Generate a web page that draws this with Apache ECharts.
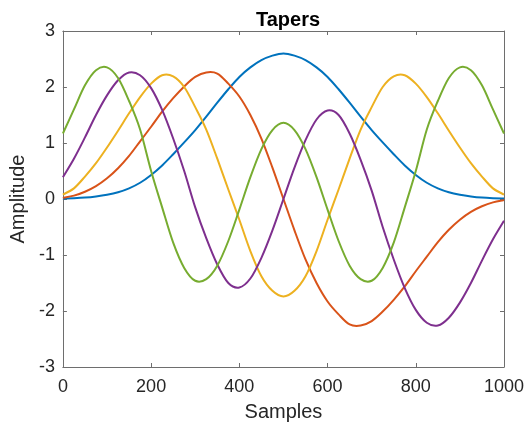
<!DOCTYPE html>
<html lang='en'>
  <head>
    <meta charset='utf-8'>
    <title>Tapers</title>
    <style>
      html, body { margin: 0; padding: 0; background: #fff; }
      #main { width: 532px; height: 427px; }
    </style>
  </head>
  <body>
    <div id="main"></div>
    <script src="https://cdn.jsdelivr.net/npm/echarts@6/dist/echarts.min.js"></script>
    <script>
      // sample positions (every 25 samples) and values
      var samples = [0, 25, 50, 75, 100, 125, 150, 175, 200, 225, 250, 275, 300, 325, 350, 375, 400, 425, 450, 475,
        500, 525, 550, 575, 600, 625, 650, 675, 700, 725, 750, 775, 800, 825, 850, 875, 900, 925, 950, 975, 1000];

      var taper1 = [0.01, 0.015, 0.025, 0.045, 0.075, 0.12, 0.19, 0.29, 0.43, 0.6, 0.8, 1.01, 1.23, 1.47, 1.72, 1.96, 2.18, 2.35, 2.48, 2.56,
        2.6, 2.56, 2.48, 2.35, 2.18, 1.96, 1.72, 1.47, 1.23, 1.01, 0.8, 0.6, 0.43, 0.29, 0.19, 0.12, 0.075, 0.045, 0.025, 0.015, 0.01];
      var taper2 = [0.02, 0.06, 0.13, 0.23, 0.37, 0.55, 0.77, 1.03, 1.29, 1.56, 1.8, 2.01, 2.18, 2.26, 2.24, 2.06, 1.83, 1.5, 1.08, 0.56,
        0, -0.56, -1.08, -1.5, -1.83, -2.06, -2.24, -2.26, -2.18, -2.01, -1.8, -1.56, -1.29, -1.03, -0.77, -0.55, -0.37, -0.23, -0.13, -0.06, -0.02];
      var taper3 = [0.08, 0.19, 0.4, 0.64, 0.92, 1.22, 1.53, 1.82, 2.06, 2.21, 2.19, 2.0, 1.64, 1.24, 0.72, 0.17, -0.37, -0.93, -1.38, -1.64,
        -1.74, -1.64, -1.38, -0.93, -0.37, 0.17, 0.72, 1.24, 1.64, 2.0, 2.19, 2.21, 2.06, 1.82, 1.53, 1.22, 0.92, 0.64, 0.4, 0.19, 0.08];
      var taper4 = [0.39, 0.72, 1.1, 1.5, 1.85, 2.12, 2.26, 2.21, 1.98, 1.59, 1.08, 0.5, -0.15, -0.7, -1.17, -1.5, -1.58, -1.42, -1.05, -0.56,
        0, 0.56, 1.05, 1.42, 1.58, 1.5, 1.17, 0.7, 0.15, -0.5, -1.08, -1.59, -1.98, -2.21, -2.26, -2.12, -1.85, -1.5, -1.1, -0.72, -0.39];
      var taper5 = [1.17, 1.6, 2.03, 2.3, 2.35, 2.16, 1.75, 1.24, 0.5, -0.15, -0.78, -1.23, -1.46, -1.43, -1.19, -0.75, -0.19, 0.39, 0.89, 1.23,
        1.36, 1.23, 0.89, 0.39, -0.19, -0.75, -1.19, -1.43, -1.46, -1.23, -0.78, -0.15, 0.5, 1.24, 1.75, 2.16, 2.35, 2.3, 2.03, 1.6, 1.17];

      var tapers = [taper1, taper2, taper3, taper4, taper5];
      var colors = ['#0072BD', '#D95319', '#EDB120', '#7E2F8E', '#77AC30'];

      var txt = '#262626';
      var axisCol = '#6e6e6e';
      var font = 'Liberation Sans, Arial, sans-serif';

      // curve through the read points (Catmull-Rom as cubic beziers), positions from the axes
      function makeRender(vals, color) {
        return function(params, api) {
          var p = [];
          for (var i = 0; i < samples.length; i++) p.push(api.coord([samples[i], vals[i]]));
          var n = p.length;
          var d = 'M' + p[0][0] + ' ' + p[0][1];
          for (var j = 0; j < n - 1; j++) {
            var p0 = p[j > 0 ? j - 1 : j], p1 = p[j], p2 = p[j + 1], p3 = p[j + 2 < n ? j + 2 : j + 1];
            var c1x = p1[0] + (p2[0] - p0[0]) / 6, c1y = p1[1] + (p2[1] - p0[1]) / 6;
            var c2x = p2[0] - (p3[0] - p1[0]) / 6, c2y = p2[1] - (p3[1] - p1[1]) / 6;
            d += ' C' + c1x + ' ' + c1y + ' ' + c2x + ' ' + c2y + ' ' + p2[0] + ' ' + p2[1];
          }
          return {
            type: 'path',
            shape: { pathData: d },
            style: { stroke: color, lineWidth: 2, fill: null }
          };
        };
      }

      var series = tapers.map(function(t, i) {
        return {
          type: 'custom',
          coordinateSystem: 'cartesian2d',
          data: [[samples[0], t[0]]],
          encode: { x: 0, y: 1 },
          renderItem: makeRender(t, colors[i]),
          silent: true,
          clip: true,
          z: 2 + i
        };
      });

      function frameAxis(pos, isX) {
        var a = {
          type: 'value', position: pos,
          axisLine: { show: true, onZero: false, lineStyle: { color: axisCol, width: 1 } },
          axisTick: { show: true, inside: true, length: 4, lineStyle: { color: axisCol } },
          axisLabel: { show: false },
          splitLine: { show: false }
        };
        if (isX) { a.min = 0; a.max = 1000; a.interval = 200; }
        else { a.min = -3; a.max = 3; a.interval = 1; }
        return a;
      }

      var xBottom = frameAxis('bottom', true);
      xBottom.name = 'Samples';
      xBottom.nameLocation = 'middle';
      xBottom.nameGap = 35;
      xBottom.nameTextStyle = { fontFamily: font, fontSize: 20, color: txt };
      xBottom.axisLabel = { show: true, fontFamily: font, fontSize: 18, color: txt, margin: 11,
        formatter: function(v) { return String(v); } };

      var yLeft = frameAxis('left', false);
      yLeft.name = 'Amplitude';
      yLeft.nameLocation = 'middle';
      yLeft.nameGap = 23;
      yLeft.nameRotate = 90;
      yLeft.nameTextStyle = { fontFamily: font, fontSize: 20, color: txt };
      yLeft.axisLabel = { show: true, fontFamily: font, fontSize: 18, color: txt, margin: 8 };

      var myChart = echarts.init(document.getElementById('main'));
      var option = {
        backgroundColor: '#fff',
        animation: false,
        title: {
          text: 'Tapers',
          left: 283,
          textAlign: 'center',
          top: 5,
          textStyle: { fontFamily: font, fontSize: 20, fontWeight: 'bold', color: '#000' }
        },
        grid: { left: 62, right: 28, top: 31, bottom: 60 },
        xAxis: [xBottom, frameAxis('top', true)],
        yAxis: [yLeft, frameAxis('right', false)],
        series: series
      };
      myChart.setOption(option);
    </script>
  </body>
</html>
